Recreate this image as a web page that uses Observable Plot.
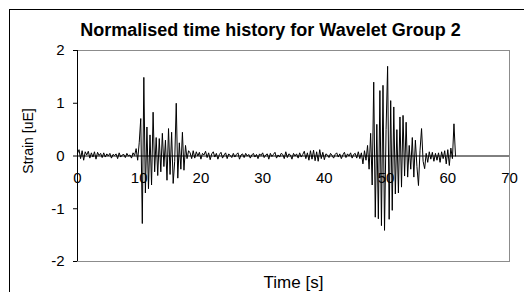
<!DOCTYPE html>
<html>
<head>
<meta charset="utf-8">
<script src="https://cdn.jsdelivr.net/npm/d3@7"></script>
<script src="https://cdn.jsdelivr.net/npm/@observablehq/plot@0.6"></script>
<style>
  html, body { margin: 0; padding: 0; background: #fff; overflow: hidden; }
  #wrap { position: relative; width: 524px; height: 292px; overflow: hidden; }
  #border { position: absolute; left: 9px; top: 9px; width: 600px; height: 400px; border: 1px solid #000; box-sizing: border-box; }
  #chart { position: absolute; left: 0; top: 0; }
</style>
</head>
<body>
<div id="wrap"><div id="border"></div><div id="chart"></div></div>
<script>
// Chart texts
const title = "Normalised time history for Wavelet Group 2";
const xLabel = "Time [s]";
const yLabel = "Strain [uE]";
const xTicks = [0, 10, 20, 30, 40, 50, 60, 70];
const yTicks = [-2, -1, 0, 1, 2];

// Sampling interval of the time history (s)
const dt = 0.25;

// Strain values, one per sample starting at t = 0 s
const quiet1 = [
  0.05, 0.12, -0.05, 0.10, -0.08, 0.08, 0.02, 0.09, -0.04, 0.06,
  -0.02, 0.08, -0.06, 0.07, 0.01, 0.05, -0.03, 0.06, -0.02, 0.04,
  0.00, 0.05, -0.04, 0.03, 0.01, 0.04, -0.05, 0.06, -0.02, 0.02,
  0.03, -0.03, 0.05, 0.00, 0.02, -0.04, 0.06, 0.01, 0.14, -0.08
];
const burst1 = [
  0.25, 0.71, -1.28, 1.49, -0.70, 0.55, -0.62, 0.40, -0.55, 0.83,
  -0.30, 0.35, -0.37, 0.33, -0.30, 0.43, -0.20, 0.30, -0.46, 0.52,
  -0.35, 0.45, -0.52, -0.10, 1.00, -0.42, 0.25, -0.25, 0.45, -0.27,
  0.20, -0.05, 0.10
];
const quiet2 = [
  0.06, -0.05, 0.10, -0.04, 0.08, 0.00, 0.07, -0.06, 0.05, 0.02,
  0.09, -0.03, 0.06, -0.07, 0.04, 0.08, -0.02, 0.05, -0.06, 0.03,
  0.07, -0.04, 0.02, 0.06, -0.05, 0.04, 0.01, -0.03, 0.05, -0.02,
  0.03, 0.06, -0.06, 0.02, 0.04, -0.03, 0.05, 0.00, 0.03, -0.04,
  0.02, 0.05, -0.02, 0.03, -0.05, 0.04, 0.01, 0.06, -0.03, 0.02,
  0.04, -0.06, 0.05, -0.01, 0.03, 0.07, -0.04, 0.02, -0.02, 0.05,
  0.03, -0.05, 0.08, -0.03, 0.04, 0.02, -0.06, 0.05, 0.00, 0.04,
  -0.04, 0.06, -0.02, 0.03, 0.09, -0.05, 0.06, -0.08, 0.10, -0.06,
  0.11, -0.09, 0.08, -0.10, 0.12, -0.05, 0.07, -0.07, 0.04, 0.02,
  -0.03, 0.05, 0.01, -0.04, 0.03, 0.06, -0.02, 0.04, -0.05, 0.02,
  0.07, -0.03, 0.04, 0.00, 0.06, -0.04, 0.03
];
const burst2 = [
  0.05, -0.04, 0.08, -0.05, 0.06, -0.15, 0.10, -0.08, 0.20, -0.25,
  0.43, -0.55, 1.40, -1.16, 0.60, -1.19, 1.24, -1.32, 1.34, -1.41,
  0.50, 1.70, -1.20, 1.05, -1.03, 0.93, -0.72, 0.50, -0.70, 0.74,
  -0.59, 0.77, -0.38, 0.64, -0.40, 0.20, -0.25, 0.35, -0.40, 0.30,
  -0.20, -0.56, 0.10, 0.52, -0.10, -0.24, 0.05, -0.12, 0.08, -0.06,
  0.07, -0.10, 0.05, -0.08, 0.06, -0.12, 0.08, -0.05, 0.10, -0.15,
  0.12, -0.18, 0.15, -0.05, 0.61, 0.00
];

const strain = [...quiet1, ...burst1, ...quiet2, ...burst2];
const series = strain.map((v, i) => ({t: i * dt, v}));

const FONT = "Arial, 'Liberation Sans', sans-serif";

const chart = Plot.plot({
  width: 524,
  height: 292,
  marginLeft: 77,
  marginRight: 15,
  marginTop: 50,
  marginBottom: 31,
  style: {fontFamily: FONT, fontSize: "15px", color: "#000", background: "transparent", overflow: "visible"},
  x: {domain: [0, 70]},
  y: {domain: [-2, 2]},
  marks: [
    Plot.frame({stroke: "#8c8c8c"}),
    Plot.axisY({ticks: yTicks, tickSize: 4, tickPadding: 9, label: null, tickFormat: d => String(d), fontSize: 15}),
    Plot.axisX({ticks: [], label: null, tickSize: 0}),
    Plot.ruleX([0], {stroke: "#000"}),
    Plot.line(series, {x: "t", y: "v", stroke: "#000", strokeWidth: 1}),
    Plot.ruleY([0], {stroke: "#000"}),
    Plot.text(xTicks, {x: d => d, y: 0, dy: 22, text: d => String(d), fontSize: 15, fill: "#000"}),
    Plot.text([title], {frameAnchor: "top", textAnchor: "middle", lineAnchor: "middle", dx: -23, dy: -20, text: d => d, fontSize: 18, fontWeight: "bold", fill: "#000"}),
    Plot.text([xLabel], {frameAnchor: "bottom", textAnchor: "middle", lineAnchor: "middle", dy: 21, text: d => d, fontSize: 17, fill: "#000"}),
    Plot.text([yLabel], {frameAnchor: "left", textAnchor: "middle", lineAnchor: "middle", dx: -49, dy: -15, rotate: -90, text: d => d, fontSize: 14, fill: "#000"})
  ]
});
document.getElementById("chart").appendChild(chart);
</script>
</body>
</html>
